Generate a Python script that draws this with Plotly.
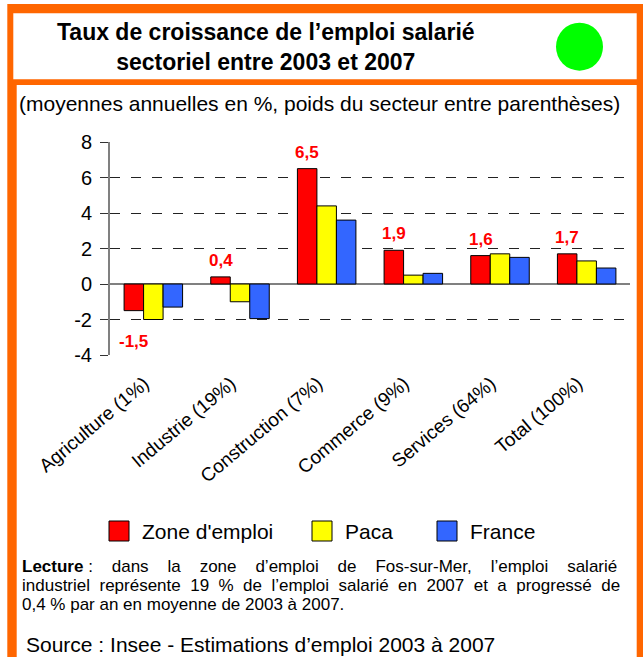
import plotly.graph_objects as go

# ---------------- data ----------------
categories = ["Agriculture (1%)", "Industrie (19%)", "Construction (7%)",
              "Commerce (9%)", "Services (64%)", "Total (100%)"]
series_names = ["Zone d'emploi", "Paca", "France"]
zone_values = [-1.5, 0.4, 6.5, 1.9, 1.6, 1.7]
paca_values = [-2.0, -1.0, 4.4, 0.5, 1.7, 1.3]
france_values = [-1.3, -1.95, 3.6, 0.6, 1.5, 0.9]
series_colors = ["#FF0000", "#FFFF00", "#3366FF"]
y_ticks = [-4, -2, 0, 2, 4, 6, 8]

title_text = "Taux de croissance de l\u2019emploi salarié<br>sectoriel entre 2003 et 2007"
subtitle_text = "(moyennes annuelles en %, poids du secteur entre parenthèses)"
source_text = "Source : Insee - Estimations d\u2019emploi 2003 à 2007"

# ---------------- geometry helpers ----------------
W, H = 643, 657
ML, MR, MT, MB = 110, 13, 142, 302
PW, PH = W - ML - MR, H - MT - MB
FONT = "Liberation Sans, Arial, sans-serif"


def px(x):
    return (x - ML) / PW


def py(y):
    return (H - MB - y) / PH


fig = go.Figure()
for name, vals, col in zip(series_names, [zone_values, paca_values, france_values], series_colors):
    fig.add_trace(go.Bar(
        x=categories, y=vals, name=name,
        marker=dict(color=col, line=dict(color="black", width=1)),
        showlegend=False, hoverinfo="skip",
    ))

shapes = []
# orange frame
shapes.append(dict(type="rect", xref="paper", yref="paper", layer="below",
                   x0=px(7.3), x1=px(660), y0=py(4), y1=py(680),
                   fillcolor="#FF6600", line=dict(width=0)))
shapes.append(dict(type="rect", xref="paper", yref="paper", layer="below",
                   x0=px(13.3), x1=px(636.7), y0=py(13.3), y1=py(79.3),
                   fillcolor="white", line=dict(width=0)))
shapes.append(dict(type="rect", xref="paper", yref="paper", layer="below",
                   x0=px(16.7), x1=px(636.7), y0=py(85), y1=py(680),
                   fillcolor="white", line=dict(width=0)))
# green dot
shapes.append(dict(type="circle", xref="paper", yref="paper", layer="above",
                   x0=px(556), x1=px(603), y0=py(22.7), y1=py(70.7),
                   fillcolor="#00FF00", line=dict(width=0)))

annotations = []
annotations.append(dict(text="<b>" + title_text + "</b>", xref="paper", yref="paper",
                        x=px(266), y=py(47), xanchor="center", yanchor="middle",
                        showarrow=False, align="center",
                        font=dict(family=FONT, size=23, color="black")))
annotations.append(dict(text=subtitle_text, xref="paper", yref="paper",
                        x=px(17), y=py(103), xanchor="left", yanchor="middle",
                        showarrow=False, font=dict(family=FONT, size=21, color="black")))

# data labels for zone d'emploi
for cat, v in zip(categories, zone_values):
    lab = f"{v:.1f}".replace(".", ",")
    annotations.append(dict(text="<b>" + lab + "</b>", x=cat, y=v, xref="x", yref="y",
                            xshift=-19.5, yshift=5 if v >= 0 else -19,
                            xanchor="center", yanchor="bottom" if v >= 0 else "top",
                            showarrow=False, font=dict(family=FONT, size=17, color="#FF0000")))

# legend (manual, large swatches)
leg_x = [109, 312, 437]
for name, col, lx in zip(series_names, series_colors, leg_x):
    shapes.append(dict(type="rect", xref="paper", yref="paper",
                       x0=px(lx), x1=px(lx + 20), y0=py(521), y1=py(541),
                       fillcolor=col, line=dict(color="black", width=1)))
    annotations.append(dict(text=name, xref="paper", yref="paper",
                            x=px(lx + 31), y=py(531), xanchor="left", yanchor="middle",
                            showarrow=False, font=dict(family=FONT, size=21, color="black")))

NB = "\u00a0"
G1 = NB * 4
G2 = NB * 2
line1_words = ["<b>Lecture</b>" + NB + ":", "dans", "la", "zone", "d\u2019emploi", "de",
               "Fos-sur-Mer,", "l\u2019emploi", "salarié"]
line2_words = "industriel représente 19 % de l\u2019emploi salarié en 2007 et a progressé de".split(" ")
lecture_lines = [
    G1.join(line1_words),
    G2.join(line2_words),
    "0,4 % par an en moyenne de 2003 à 2007.",
]
lecture_y = [566, 585.5, 604.5]
for line, ly in zip(lecture_lines, lecture_y):
    annotations.append(dict(text=line, xref="paper", yref="paper",
                            x=px(19.5), y=py(ly), xanchor="left", yanchor="middle",
                            showarrow=False, font=dict(family=FONT, size=17, color="black")))

annotations.append(dict(text=source_text, xref="paper", yref="paper",
                        x=px(24), y=py(644), xanchor="left", yanchor="middle",
                        showarrow=False, font=dict(family=FONT, size=21, color="black")))

fig.update_layout(
    width=W, height=H,
    margin=dict(l=ML, r=MR, t=MT, b=MB, pad=0),
    paper_bgcolor="white", plot_bgcolor="rgba(0,0,0,0)",
    barmode="group", bargap=0.325, bargroupgap=0,
    font=dict(family=FONT, color="black"),
    shapes=shapes, annotations=annotations,
    showlegend=False, hovermode=False,
)
fig.update_yaxes(range=[-4, 8], tickvals=y_ticks, ticktext=[str(t) for t in y_ticks],
                 showline=True, linecolor="#808080", linewidth=2,
                 zeroline=True, zerolinecolor="#808080", zerolinewidth=2,
                 showgrid=True, gridcolor="#222222", gridwidth=1, griddash="10px,11px",
                 ticks="outside", ticklen=8, tickcolor="#333333", tickwidth=1,
                 tickfont=dict(family=FONT, size=20, color="black"),
                 ticklabelstandoff=4)
fig.update_xaxes(showline=False, showgrid=False, zeroline=False, ticks="",
                 tickangle=-40, tickfont=dict(family=FONT, size=19, color="black"),
                 ticklabelstandoff=13, ticklabelshift=-9)

fig.write_html("out.html", config={"displayModeBar": False},
               post_script="document.body.style.margin='0';document.body.style.overflow='hidden';")
